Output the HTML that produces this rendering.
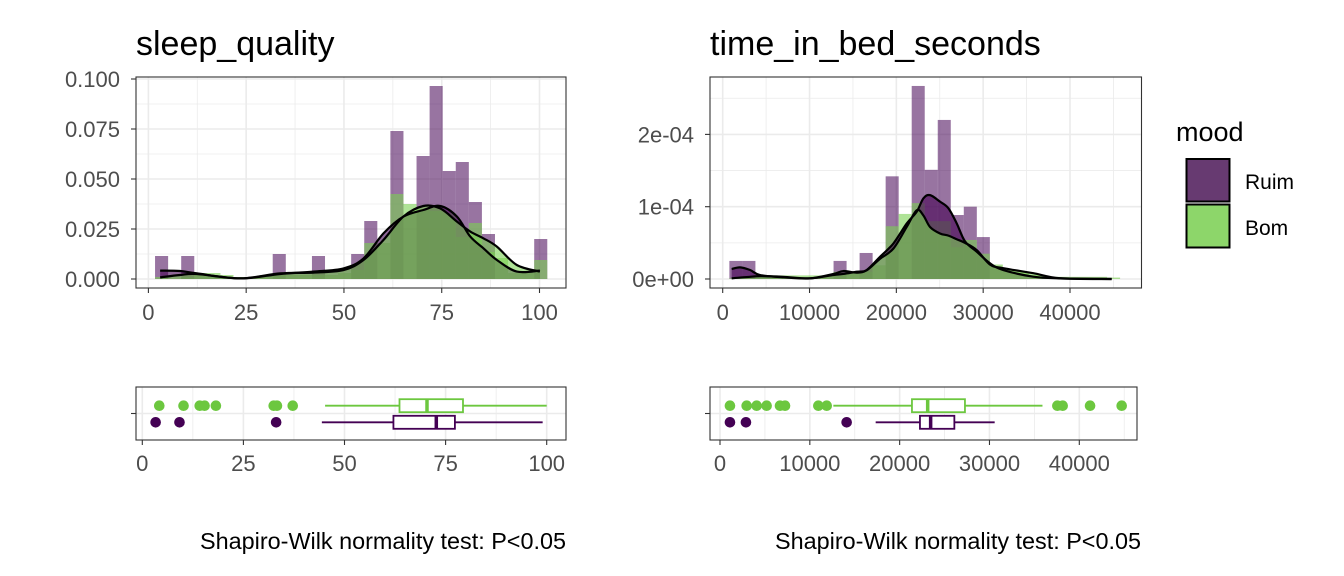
<!DOCTYPE html>
<html><head><meta charset="utf-8">
<style>
html,body{margin:0;padding:0;background:#fff;}
svg{display:block;font-family:"Liberation Sans",Arial,sans-serif;}
</style></head>
<body>
<svg id="chart" width="1344" height="576" viewBox="0 0 1344 576" xmlns="http://www.w3.org/2000/svg">
<rect x="0" y="0" width="1344" height="576" fill="#fff"/>
</svg>
<script>
// ===== Data: sleep_quality =====
const sqBinStart = 1.70;
const sqBinWidth = 3.343;
const sqRuimBins = [0.0115,0,0.0115,0,0,0,0,0,0,0.0125,0,0,0.0115,0,0,0.0125,0.029,0,0.074,0,0.0615,0.0965,0.054,0.0585,0.0385,0.0225,0,0,0,0.020];
const sqBomBins = [0.001,0,0.001,0.003,0.003,0.002,0.001,0.001,0.002,0.002,0.002,0.002,0.002,0.002,0.003,0.0045,0.018,0.018,0.0425,0.0375,0.035,0.034,0.033,0.021,0.028,0.0135,0.0105,0.003,0.003,0.0095];
const sqDensX = [3.0,8.1,12.4,23.5,33.7,42.2,49.9,55.0,60.1,65.2,70.3,74.6,78.9,82.3,85.7,89.1,94.2,100.1];
const sqRuimDens = [0.0042,0.0040,0.0028,0.0003,0.0025,0.0037,0.0053,0.0103,0.0228,0.0312,0.0345,0.0365,0.0312,0.0212,0.0153,0.0095,0.0037,0.0042];
const sqBomDens = [0.0008,0.0020,0.0025,0.0003,0.0028,0.0032,0.0045,0.0095,0.0195,0.0312,0.0365,0.0353,0.0287,0.0237,0.0203,0.0162,0.0070,0.0037];
const sqYTicks = [0, 0.025, 0.05, 0.075, 0.1];
const sqYLabels = ["0.000","0.025","0.050","0.075","0.100"];
const sqXTicks = [0,25,50,75,100];
const sqXLabels = ["0","25","50","75","100"];
const sqBoxBom = {q1:63.6, med:70.4, q3:79.3, lo:45.2, hi:100};
const sqOutBom = [4.2,10.2,14.2,15.4,18.2,32.5,33.3,37.2];
const sqBoxRuim = {q1:62.1, med:72.7, q3:77.3, lo:44.4, hi:99};
const sqOutRuim = [3.3,9.2,33.1];

// ===== Data: time_in_bed_seconds =====
const tbBinStart = 768;
const tbBinWidth = 1500;
const tbRuimBins = [0.25e-4,0.25e-4,0,0,0,0,0,0,0.25e-4,0,0.36e-4,0,1.42e-4,0,2.67e-4,1.51e-4,2.2e-4,0.885e-4,1.0e-4,0.58e-4,0,0,0,0,0,0,0,0,0,0];
const tbBomBins = [0.01e-4,0.01e-4,0.05e-4,0.05e-4,0.05e-4,0.05e-4,0.05e-4,0.05e-4,0.1e-4,0.1e-4,0.1e-4,0.19e-4,0.73e-4,0.9e-4,1.05e-4,0.8e-4,0.8e-4,0.44e-4,0.54e-4,0.35e-4,0.2e-4,0.12e-4,0.1e-4,0.055e-4,0.03e-4,0.03e-4,0.03e-4,0.03e-4,0.03e-4,0.02e-4];
const tbDensX = [1036,1996,3148,4299,6987,10058,12745,13896,15432,16584,18120,19655,21191,22343,23111,23878,25030,25990,26950,27910,29253,30789,32324,35779,38850,44800];
const tbRuimDens = [0.138e-4,0.161e-4,0.124e-4,0.055e-4,0.023e-4,0.009e-4,0.069e-4,0.11e-4,0.088e-4,0.124e-4,0.307e-4,0.491e-4,0.767e-4,0.93e-4,1.115e-4,1.16e-4,1.07e-4,0.98e-4,0.77e-4,0.52e-4,0.378e-4,0.217e-4,0.124e-4,0.032e-4,0.009e-4,0];
const tbBomDens = [0.009e-4,0.02e-4,0.03e-4,0.04e-4,0.03e-4,0.009e-4,0.055e-4,0.07e-4,0.1e-4,0.12e-4,0.28e-4,0.42e-4,0.72e-4,0.95e-4,0.88e-4,0.72e-4,0.63e-4,0.6e-4,0.55e-4,0.5e-4,0.4e-4,0.2e-4,0.15e-4,0.08e-4,0.01e-4,0];
const tbYTicks = [0, 1e-4, 2e-4];
const tbYLabels = ["0e+00","1e-04","2e-04"];
const tbXTicks = [0,10000,20000,30000,40000];
const tbXLabels = ["0","10000","20000","30000","40000"];
const tbBoxBom = {q1:21370, med:23120, q3:27270, lo:12620, hi:35900};
const tbOutBom = [1110,2970,4080,5190,6680,7240,10950,11880,37560,38150,41200,44720];
const tbBoxRuim = {q1:22260, med:23450, q3:26090, lo:17330, hi:30580};
const tbOutRuim = [1110,2890,14100];

const SVGNS = "http://www.w3.org/2000/svg";
const svg = document.getElementById("chart");
const PURPLE = "#440154", GREEN = "#7AD151", BOXGREEN = "#6cc73f";
const TXT = "#4d4d4d";

function mk(tag, attrs, parent){
  const e = document.createElementNS(SVGNS, tag);
  for (const k in attrs) e.setAttribute(k, attrs[k]);
  (parent||svg).appendChild(e);
  return e;
}
function txt(x,y,s,size,anchor,fill,parent){
  const t = mk("text",{x:x,y:y,"font-size":size,"text-anchor":anchor,fill:fill},parent);
  t.textContent = s;
  return t;
}
function smooth(pts){
  let d = "M"+pts[0][0]+","+pts[0][1];
  for (let i=0;i<pts.length-1;i++){
    const p0 = pts[Math.max(0,i-1)], p1 = pts[i], p2 = pts[i+1], p3 = pts[Math.min(pts.length-1,i+2)];
    const c1x = p1[0]+(p2[0]-p0[0])/6, c1y = p1[1]+(p2[1]-p0[1])/6;
    const c2x = p2[0]-(p3[0]-p1[0])/6, c2y = p2[1]-(p3[1]-p1[1])/6;
    d += " C"+c1x+","+c1y+" "+c2x+","+c2y+" "+p2[0]+","+p2[1];
  }
  return d;
}

function drawPanel(cfg){
  const g = mk("g",{});
  
  
  const X = v => cfg.x0px + (v - cfg.x0v) * cfg.xs;
  const Y = v => cfg.yBase - v * cfg.ys;
  const bx = cfg.px0, by = cfg.py0, bw = cfg.px1 - cfg.px0, bh = cfg.py1 - cfg.py0;
  const gridG = mk("g",{},g);
  
  
  const step = cfg.xt[1]-cfg.xt[0];
  for (let v = cfg.xt[0]-step/2; v <= cfg.xt[cfg.xt.length-1]+step; v += step){
    const m = X(v);
    if (m > bx && m < bx+bw) mk("line",{x1:m,x2:m,y1:by,y2:by+bh,stroke:"#ebebeb","stroke-width":0.8},gridG);
  }
  const ystep = cfg.yt[1]-cfg.yt[0];
  for (let v = cfg.yt[0]+ystep/2; v <= cfg.yt[cfg.yt.length-1]+ystep; v += ystep){
    const m = Y(v);
    if (m > by && m < by+bh) mk("line",{x1:bx,x2:bx+bw,y1:m,y2:m,stroke:"#ebebeb","stroke-width":0.8},gridG);
  }
  cfg.xt.forEach(v=>mk("line",{x1:X(v),x2:X(v),y1:by,y2:by+bh,stroke:"#ebebeb","stroke-width":1.6},gridG));
  cfg.yt.forEach(v=>mk("line",{x1:bx,x2:bx+bw,y1:Y(v),y2:Y(v),stroke:"#ebebeb","stroke-width":1.6},gridG));
  const drawBars = (arr, color, op, who) => {
    arr.forEach((v,k)=>{
      if (v<=0) return;
      const l = X(cfg.bs + k*cfg.bw), r = X(cfg.bs + (k+1)*cfg.bw);
      const b = mk("rect",{x:l,y:Y(v),width:r-l,height:Y(0)-Y(v),fill:color,"fill-opacity":op},g);
      
      
    });
  };
  drawBars(cfg.ruim, PURPLE, 0.55, 'ruim');
  drawBars(cfg.bom, GREEN, 0.6, 'bom');
  const ptsOf = arr => cfg.dx.map((xv,i)=>[X(xv), Y(arr[i])]);
  const dens = (arr, color, who) => {
    const pts = ptsOf(arr);
    let d = smooth(pts) + " L"+pts[pts.length-1][0]+","+Y(0)+" L"+pts[0][0]+","+Y(0)+" Z";
    const a = mk("path",{d:d,fill:color,"fill-opacity":0.6,stroke:"none"},g);
    
    
  };
  const densLine = (arr, who) => {
    const l = mk("path",{d:smooth(ptsOf(arr)),fill:"none",stroke:"#000","stroke-width":2.2,"stroke-linejoin":"round"},g);
    
    
  };
  dens(cfg.rd, PURPLE, 'ruim');
  dens(cfg.bd, GREEN, 'bom');
  densLine(cfg.rd, 'ruim');
  densLine(cfg.bd, 'bom');
  const br = mk("rect",{x:bx,y:by,width:bw,height:bh,fill:"none",stroke:"#333","stroke-width":1.1},g);
  
  
  cfg.xt.forEach((v,i)=>{
    mk("line",{x1:X(v),x2:X(v),y1:by+bh,y2:by+bh+5,stroke:"#333","stroke-width":1.1},g);
    const t = txt(X(v), by+bh+32, cfg.xl[i], 22, "middle", TXT, g);
    
    
  });
  cfg.yt.forEach((v,i)=>{
    mk("line",{x1:bx-5,x2:bx,y1:Y(v),y2:Y(v),stroke:"#333","stroke-width":1.1},g);
    const t = txt(bx-16, Y(v)+8, cfg.yl[i], 22, "end", TXT, g);
    
    
  });
  const ti = txt(bx, 55, cfg.name, 34, "start", "#000", g);
  
  
}

function drawBox(cfg){
  const g = mk("g",{});
  
  
  const X = v => cfg.x0px + v * cfg.xs;
  const bx = cfg.px0, by = 387, bw = cfg.px1-cfg.px0, bh = 53;
  const midY = 413.5;
  const step = cfg.xt[1]-cfg.xt[0];
  for (let v = cfg.xt[0]-step/2; v <= cfg.xt[cfg.xt.length-1]+step; v += step){
    const m = X(v);
    if (m > bx && m < bx+bw) mk("line",{x1:m,x2:m,y1:by,y2:by+bh,stroke:"#ebebeb","stroke-width":0.8},g);
  }
  cfg.xt.forEach(v=>mk("line",{x1:X(v),x2:X(v),y1:by,y2:by+bh,stroke:"#ebebeb","stroke-width":1.6},g));
  mk("line",{x1:bx,x2:bx+bw,y1:midY,y2:midY,stroke:"#ebebeb","stroke-width":1.6},g);
  const one = (b, outs, y, color, who) => {
    const h = 13;
    const w1 = mk("line",{x1:X(b.lo),x2:X(b.q1),y1:y,y2:y,stroke:color,"stroke-width":1.8},g);
    
    
    const w2 = mk("line",{x1:X(b.q3),x2:X(b.hi),y1:y,y2:y,stroke:color,"stroke-width":1.8},g);
    
    
    const r = mk("rect",{x:X(b.q1),y:y-h/2,width:X(b.q3)-X(b.q1),height:h,fill:"#fff",stroke:color,"stroke-width":1.8},g);
    
    
    const m = mk("line",{x1:X(b.med),x2:X(b.med),y1:y-h/2,y2:y+h/2,stroke:color,"stroke-width":3.5},g);
    
    
    outs.forEach(v=>{
      const c = mk("circle",{cx:X(v),cy:y,r:5.3,fill:color},g);
      
      
    });
  };
  one(cfg.bom, cfg.ob, 405.7, BOXGREEN, 'bom');
  one(cfg.ruim, cfg.or, 422.3, PURPLE, 'ruim');
  mk("rect",{x:bx,y:by,width:bw,height:bh,fill:"none",stroke:"#333","stroke-width":1.1},g);
  mk("line",{x1:bx-5,x2:bx,y1:midY,y2:midY,stroke:"#333","stroke-width":1.1},g);
  cfg.xt.forEach((v,i)=>{
    mk("line",{x1:X(v),x2:X(v),y1:by+bh,y2:by+bh+5,stroke:"#333","stroke-width":1.1},g);
    const t = txt(X(v), by+bh+31, cfg.xl[i], 22, "middle", TXT, g);
    
    
  });
  const f = txt(cfg.capRight, 549, "Shapiro-Wilk normality test: P<0.05", 23.4, "end", "#000", g);
  
  
}

drawPanel({name:"sleep_quality", x0px:148.4, x0v:0, xs:3.911, yBase:279, ys:2000,
  px0:136, px1:566, py0:77, py1:288, bs:sqBinStart, bw:sqBinWidth, ruim:sqRuimBins, bom:sqBomBins,
  dx:sqDensX, rd:sqRuimDens, bd:sqBomDens, xt:sqXTicks, xl:sqXLabels, yt:sqYTicks, yl:sqYLabels});
drawPanel({name:"time_in_bed_seconds", x0px:722.7, x0v:0, xs:347.3/40000, yBase:279, ys:72.3/1e-4,
  px0:710, px1:1141.5, py0:77, py1:288, bs:tbBinStart, bw:tbBinWidth, ruim:tbRuimBins, bom:tbBomBins,
  dx:tbDensX, rd:tbRuimDens, bd:tbBomDens, xt:tbXTicks, xl:tbXLabels, yt:tbYTicks, yl:tbYLabels});
drawBox({name:"sleep_quality", x0px:142.3, xs:4.044, px0:136, px1:566, capRight:566, bom:sqBoxBom, ob:sqOutBom, ruim:sqBoxRuim, or:sqOutRuim, xt:sqXTicks, xl:sqXLabels});
drawBox({name:"time_in_bed_seconds", x0px:720, xs:359.3/40000, px0:710, px1:1137, capRight:1141, bom:tbBoxBom, ob:tbOutBom, ruim:tbBoxRuim, or:tbOutRuim, xt:tbXTicks, xl:tbXLabels});

// legend
const lg = mk("g",{});


const lt = txt(1176, 141, "mood", 27, "start", "#000", lg);


const k1 = mk("rect",{x:1186.5,y:159,width:43,height:42.5,fill:"#673a71",stroke:"#000","stroke-width":2},lg);


const k2 = mk("rect",{x:1186.5,y:204.5,width:43,height:43,fill:"#8dd66a",stroke:"#000","stroke-width":2},lg);


const l1 = txt(1245, 189, "Ruim", 21, "start", "#000", lg);


const l2 = txt(1245, 235, "Bom", 21, "start", "#000", lg);


</script>
</body></html>
